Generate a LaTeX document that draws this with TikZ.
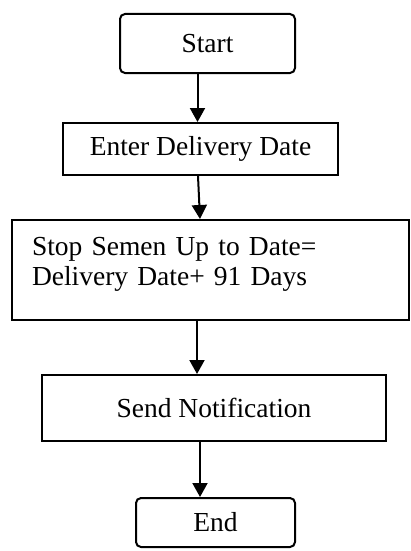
\documentclass[tikz,border=0pt]{standalone}
\usepackage{fontspec}
\setmainfont{Liberation Serif}
\usetikzlibrary{arrows.meta}
\tikzset{
	kasten/.style={draw, line width=2pt, inner sep=0pt, font=\fontsize{27.5}{30}\selectfont},
	rund/.style={kasten, rounded corners=5pt},
	pfeil/.style={-{Triangle[length=14pt,width=15pt]}, line width=2pt},
}
\begin{document}
\begin{tikzpicture}[x=1pt, y=-1pt]
		\useasboundingbox (0, 0) rectangle (411, 551);
		% Kaesten
		\node [rund, minimum width=175pt, minimum height=59pt] (start) at (207.5, 43.5) {Start};
		\node [kasten, minimum width=275pt, minimum height=52pt] (eingabe) at (200.5, 149) {Enter Delivery Date};
		\node [kasten, minimum width=397pt, minimum height=100pt, text width=357pt, align=left, text depth=48pt] (rechnung) at (210.5, 270) {Stop Semen Up to Date=\\Delivery Date+ 91 Days};
		\node [kasten, minimum width=344pt, minimum height=66pt] (senden) at (214, 408) {Send Notification};
		\node [rund, minimum width=159pt, minimum height=49pt] (ende) at (215.5, 522.5) {End};
		% Pfeile
		\draw [pfeil] ([xshift=-10pt]start.south) -- ([xshift=-3pt]eingabe.north);
		\draw [pfeil] ([xshift=-2.5pt]eingabe.south) -- ([xshift=-10.5pt]rechnung.north);
		\draw [pfeil] ([xshift=-13.5pt]rechnung.south) -- ([xshift=-17pt]senden.north);
		\draw [pfeil] ([xshift=-14pt]senden.south) -- ([xshift=-15.5pt]ende.north);
	\end{tikzpicture}
\end{document}
